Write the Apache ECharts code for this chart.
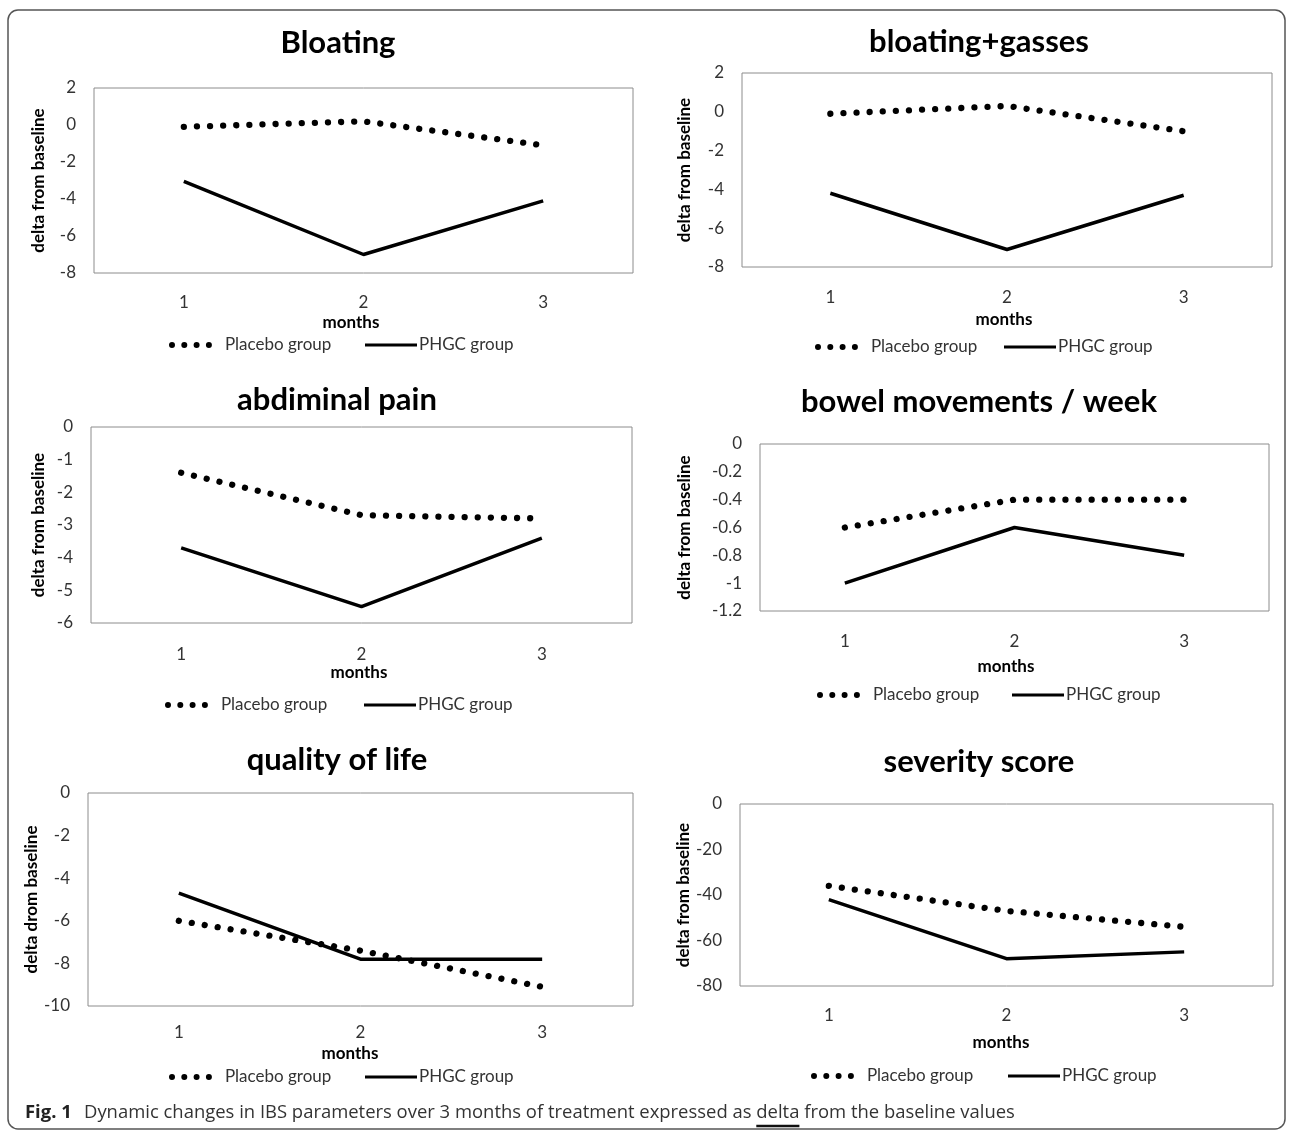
<!DOCTYPE html>
<html><head><meta charset="utf-8">
<script src="https://cdn.jsdelivr.net/npm/echarts@6/dist/echarts.min.js"></script>
<style>html,body{margin:0;padding:0;background:#fff}#c{width:1292px;height:1132px}</style>
</head><body><div id="c"></div>
<script>
// ---- data ----
const months = ['1', '2', '3'];
const seriesNames = ['Placebo group', 'PHGC group'];

const bloatingPlacebo = [-0.1, 0.2, -1.1];
const bloatingPHGC = [-3.05, -7.0, -4.1];
const bloatingTicks = [-8, -6, -4, -2, 0, 2];

const gassesPlacebo = [-0.1, 0.3, -1.0];
const gassesPHGC = [-4.2, -7.1, -4.3];
const gassesTicks = [-8, -6, -4, -2, 0, 2];

const painPlacebo = [-1.4, -2.7, -2.8];
const painPHGC = [-3.7, -5.5, -3.4];
const painTicks = [-6, -5, -4, -3, -2, -1, 0];

const bowelPlacebo = [-0.6, -0.4, -0.4];
const bowelPHGC = [-1.0, -0.6, -0.8];
const bowelTicks = [-1.2, -1, -0.8, -0.6, -0.4, -0.2, 0];

const qolPlacebo = [-6.0, -7.4, -9.1];
const qolPHGC = [-4.7, -7.8, -7.8];
const qolTicks = [-10, -8, -6, -4, -2, 0];

const severityPlacebo = [-36, -47, -54];
const severityPHGC = [-42, -68, -65];
const severityTicks = [-80, -60, -40, -20, 0];

const titles = ['Bloating', 'bloating+gasses', 'abdiminal pain', 'bowel movements / week', 'quality of life', 'severity score'];
const yNames = ['delta from baseline', 'delta from baseline', 'delta from baseline', 'delta from baseline', 'delta drom baseline', 'delta from baseline'];
const xName = 'months';
const captionBold = 'Fig. 1';
const captionPre = 'Dynamic changes in IBS parameters over 3 months of treatment expressed as ';
const captionMid = 'delta';
const captionPost = ' from the baseline values';

const placeboSets = [bloatingPlacebo, gassesPlacebo, painPlacebo, bowelPlacebo, qolPlacebo, severityPlacebo];
const phgcSets = [bloatingPHGC, gassesPHGC, painPHGC, bowelPHGC, qolPHGC, severityPHGC];
const tickSets = [bloatingTicks, gassesTicks, painTicks, bowelTicks, qolTicks, severityTicks];

// ---- layout (pixel positions) ----
const layout = [
  {l: 94,  t: 88,  r: 633,  b: 273, tx: 338, ty: 43,  lx: 303,  mx: 351,  my: 323,  gy: 345,  dx: 169, sx: 365,  nx: 39},
  {l: 742, t: 73,  r: 1272, b: 267, tx: 979, ty: 42,  lx: 298,  mx: 1004, my: 320,  gy: 347,  dx: 815, sx: 1004, nx: 685},
  {l: 91,  t: 427, r: 632,  b: 623, tx: 337, ty: 400, lx: 655,  mx: 359,  my: 673,  gy: 705,  dx: 165, sx: 364,  nx: 39},
  {l: 760, t: 444, r: 1269, b: 611, tx: 979, ty: 402, lx: 642,  mx: 1006, my: 667,  gy: 695,  dx: 817, sx: 1012, nx: 685},
  {l: 88,  t: 793, r: 633,  b: 1006, tx: 337, ty: 760, lx: 1033, mx: 350, my: 1054, gy: 1077, dx: 169, sx: 365,  nx: 39},
  {l: 740, t: 804, r: 1273, b: 986, tx: 979, ty: 762, lx: 1016, mx: 1001, my: 1043, gy: 1076, dx: 811, sx: 1008, nx: 685}
];

const FONT = 'Lato, "Open Sans", sans-serif';
const dotsIcon = 'path://M0,3a3,3 0 1,0 6,0a3,3 0 1,0 -6,0M12.3,3a3,3 0 1,0 6,0a3,3 0 1,0 -6,0M24.6,3a3,3 0 1,0 6,0a3,3 0 1,0 -6,0M36.9,3a3,3 0 1,0 6,0a3,3 0 1,0 -6,0';

const option = {
  animation: false,
  backgroundColor: '#fff',
  title: [], grid: [], xAxis: [], yAxis: [], series: [], legend: [], graphic: []
};

layout.forEach((p, i) => {
  const ticks = tickSets[i];
  const min = ticks[0], max = ticks[ticks.length - 1];
  const step = +(ticks[1] - ticks[0]).toFixed(6);
  option.title.push({
    text: titles[i], left: p.tx, top: p.ty - 18, textAlign: 'center', padding: 0,
    textStyle: {fontSize: 31, fontWeight: 'bold', fontFamily: FONT, color: '#000', lineHeight: 36}
  });
  option.grid.push({
    left: p.l, top: p.t, width: p.r - p.l, height: p.b - p.t,
    show: true, borderColor: '#8c8c8c', borderWidth: 1, containLabel: false, outerBoundsMode: 'none'
  });
  const off = p.mx - (p.l + p.r) / 2;
  option.xAxis.push({
    type: 'category', gridIndex: i, data: months, boundaryGap: true,
    axisLine: {show: false}, axisTick: {show: false}, splitLine: {show: false},
    axisLabel: {margin: p.lx - p.b - 8.5, fontSize: 17, color: '#333', fontFamily: FONT},
    name: xName, nameLocation: 'middle', nameGap: p.my - p.b - 8.5,
    nameTextStyle: {fontSize: 17, fontWeight: 'bold', color: '#000', fontFamily: FONT,
      padding: off < 0 ? [0, -2 * off, 0, 0] : [0, 0, 0, 2 * off]}
  });
  option.yAxis.push({
    type: 'value', gridIndex: i, min: min, max: max, interval: step,
    axisLine: {show: false}, axisTick: {show: false}, splitLine: {show: false},
    axisLabel: {margin: 18, fontSize: 17, color: '#333', fontFamily: FONT},
    name: yNames[i], nameLocation: 'middle', nameRotate: 90, nameGap: p.l - p.nx - 8.5,
    nameTextStyle: {fontSize: 17, fontWeight: 'bold', color: '#000', fontFamily: FONT}
  });
  option.series.push({
    name: seriesNames[0], type: 'line', xAxisIndex: i, yAxisIndex: i, data: placeboSets[i],
    symbol: 'none', showSymbol: false, itemStyle: {color: '#000'},
    lineStyle: {color: '#000', width: 6.3, type: [0.01, 13.1], cap: 'round'}
  });
  option.series.push({
    name: seriesNames[1], type: 'line', xAxisIndex: i, yAxisIndex: i, data: phgcSets[i],
    symbol: 'none', showSymbol: false, itemStyle: {color: '#000'},
    lineStyle: {color: '#000', width: 3.5, type: 'solid'}
  });
  option.legend.push({
    data: [seriesNames[0]], left: p.dx, top: p.gy - 10, padding: 0,
    icon: dotsIcon, itemWidth: 43, itemHeight: 6, itemStyle: {color: '#000', borderWidth: 0},
    textStyle: {fontSize: 17, color: '#333', fontFamily: FONT, lineHeight: 20, padding: [0, 0, 0, 8]}
  });
  option.legend.push({
    data: [seriesNames[1]], left: p.sx, top: p.gy - 10, padding: 0,
    icon: 'rect', itemWidth: 52, itemHeight: 3, itemStyle: {color: '#000', borderWidth: 0},
    textStyle: {fontSize: 17, color: '#333', fontFamily: FONT, lineHeight: 20, padding: [0, 0, 0, -3]}
  });
});

// caption measurement
const CAP_FONT = '"Open Sans", sans-serif';
const ctx = document.createElement('canvas').getContext('2d');
ctx.font = '17px ' + CAP_FONT;
const preW17 = ctx.measureText(captionPre).width;
const capSize = 17 * (757 - 84) / preW17;
ctx.font = capSize + 'px ' + CAP_FONT;
const preW = ctx.measureText(captionPre).width;
const midW = ctx.measureText(captionMid).width;
const capY = 1113;
const midX = 84 + preW;

option.graphic = [
  {type: 'rect', silent: true, shape: {x: 8, y: 10, width: 1277, height: 1119, r: 10},
    style: {fill: 'none', stroke: '#555', lineWidth: 1.5}},
  {type: 'text', silent: true, x: 25, y: capY,
    style: {text: captionBold, fontSize: capSize, fontWeight: 'bold', fontFamily: CAP_FONT, fill: '#222', verticalAlign: 'middle', align: 'left'}},
  {type: 'text', silent: true, x: 84, y: capY,
    style: {text: captionPre, fontSize: capSize, fontFamily: CAP_FONT, fill: '#333', verticalAlign: 'middle', align: 'left'}},
  {type: 'text', silent: true, x: midX, y: capY,
    style: {text: captionMid, fontSize: capSize, fontFamily: CAP_FONT, fill: '#333', verticalAlign: 'middle', align: 'left'}},
  {type: 'line', silent: true, shape: {x1: midX, y1: 1126, x2: midX + midW, y2: 1126},
    style: {stroke: '#111', lineWidth: 2.5}},
  {type: 'text', silent: true, x: midX + midW, y: capY,
    style: {text: captionPost, fontSize: capSize, fontFamily: CAP_FONT, fill: '#333', verticalAlign: 'middle', align: 'left'}}
];

const chart = echarts.init(document.getElementById('c'), null, {renderer: 'canvas'});
chart.setOption(option);
</script>
</body></html>
